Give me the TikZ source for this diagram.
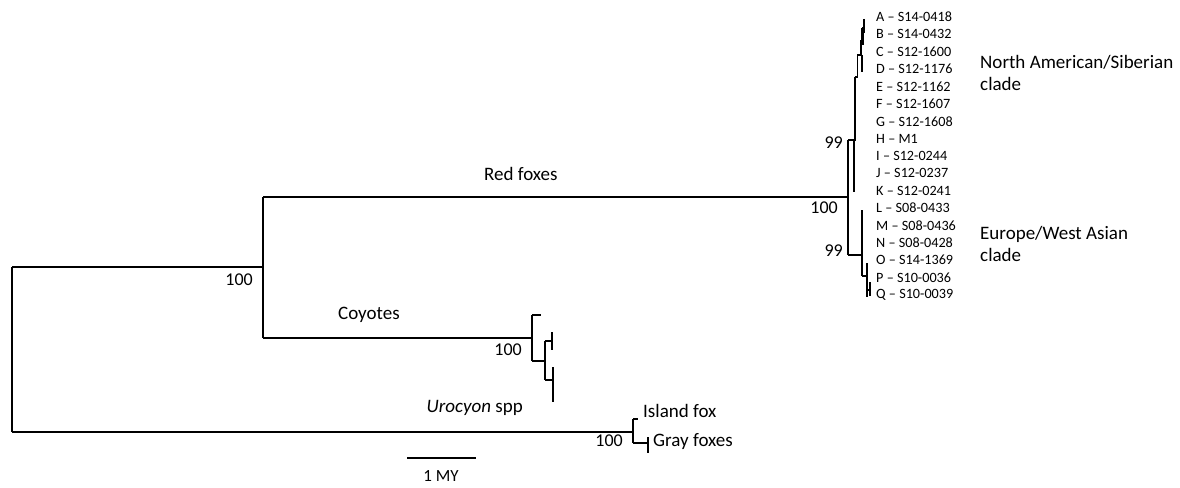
\documentclass[tikz,border=0pt]{standalone}
\usepackage{fontspec}
\setmainfont{Carlito}
\begin{document}
\begin{tikzpicture}[x=1pt,y=-1pt,
  br/.style={line width=1.4pt},
  thk/.style={line width=2.4pt},
  leaf/.style={font=\fontsize{14.2}{16}\selectfont, anchor=west, inner sep=0pt},
  big/.style={font=\fontsize{19}{22.5}\selectfont, inner sep=0pt},
  num/.style={font=\fontsize{18}{20}\selectfont, inner sep=0pt, anchor=east}]
\useasboundingbox (0,0) rectangle (1180,487);
% root and main nodes
\coordinate (rt) at (12,267);
\coordinate (rb) at (12,432);
\coordinate (n1) at (263,267);
\coordinate (n1t) at (263,197);
\coordinate (n1b) at (263,338);
\coordinate (red) at (848,197);
\coordinate (redt) at (848,140);
\coordinate (redb) at (848,255);
\coordinate (coy) at (532,338);
\coordinate (uro) at (633,432);
\draw[br] (rt) -- (rb);
\draw[br] (rt) -- (n1);
\draw[br] (rb) -- (uro);
\draw[br] (n1t) -- (n1b);
\draw[br] (n1t) -- (red);
\draw[br] (n1b) -- (coy);
\draw[br] (redt) -- (redb);
% North American / Siberian clade
\coordinate (na) at (854,140);
\draw[br] (redt) -- (na);
\draw[br] (na) -- (854,192);
\draw[thk] (855,77) -- (855,141);
\draw[br] (855,77) -- (858,77);
\draw[br] (857.5,55) -- (857.5,78);
\draw[br] (857,55) -- (862,55);
\draw[br] (862,55) -- (862,72);
\draw[thk] (861,40) -- (861,56);
\draw[br] (861,40) -- (862.5,40);
\draw[thk] (862.5,28) -- (862.5,45);
\draw[br] (862,28) -- (864,28);
\draw[thk] (864,19) -- (864,33);
% Europe / West Asian clade
\coordinate (eu) at (862,255);
\draw[br] (redb) -- (eu);
\draw[br] (862,210) -- (862,276);
\draw[br] (862,276) -- (867,276);
\draw[br] (867,263) -- (867,297);
\draw[br] (867,290) -- (870,290);
\draw[thk] (870,282) -- (870,296);
% Coyotes
\coordinate (ct) at (532,315);
\coordinate (cb) at (532,361);
\draw[br] (ct) -- (cb);
\draw[br] (ct) -- (541,315);
\draw[br] (cb) -- (545,361);
\draw[br] (545,341) -- (545,380);
\draw[br] (545,341) -- (552,341);
\draw[br] (552,332) -- (552,350);
\draw[br] (545,380) -- (553,380);
\draw[br] (553,367) -- (553,402);
% Urocyon
\coordinate (ut) at (633,419);
\coordinate (ub) at (633,443);
\draw[br] (ut) -- (ub);
\draw[br] (ut) -- (638,419);
\draw[br] (ub) -- (648,443);
\draw[br] (648,437) -- (648,453);
% leaf labels
\foreach \t [count=\i from 0] in {A -- S14-0418, B -- S14-0432, C -- S12-1600, D -- S12-1176, E -- S12-1162, F -- S12-1607, G -- S12-1608, H -- M1, I -- S12-0244, J -- S12-0237, K -- S12-0241, L -- S08-0433, M -- S08-0436, N -- S08-0428, O -- S14-1369, P -- S10-0036, Q -- S10-0039}
  \node[leaf] (leaf\i) at (876,{17+\i*17.375}) {\t};
% clade labels
\node[big, anchor=west, align=left] (nalab) at (980,73) {North American/Siberian\\clade};
\node[big, anchor=west, align=left] (eulab) at (980,244) {Europe/West Asian\\clade};
\node[big, anchor=base west] (redlab) at (484,180) {Red foxes};
\node[big, anchor=west] (coylab) at (338,315) {Coyotes};
\node[big, anchor=east] (urolab) at (523,408) {\textit{Urocyon} spp};
\node[big, anchor=west] (islab) at (643,411) {Island fox};
\node[big, anchor=west] (gylab) at (653,442) {Gray foxes};
% support values
\node[num] (b1) at (253,280) {100};
\node[num] (b2) at (838,208) {100};
\node[num] (b3) at (843,143) {99};
\node[num] (b4) at (843,251) {99};
\node[num] (b5) at (522,350) {100};
\node[num] (b6) at (623,441) {100};
% scale bar
\coordinate (sb1) at (407,458);
\coordinate (sb2) at (476,458);
\draw[line width=2.8pt] (sb1) -- (sb2);
\node[font=\fontsize{17}{19}\selectfont, inner sep=0pt] (sblab) at (441,476) {1 MY};
\end{tikzpicture}
\end{document}
